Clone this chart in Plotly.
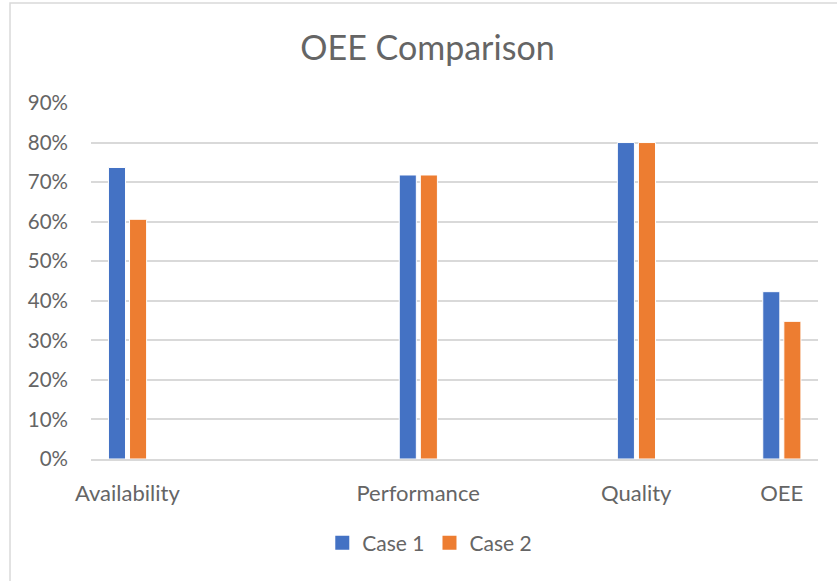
import plotly.graph_objects as go

categories = ["Availability", "Performance", "Quality", "OEE"]
axis_positions = [1, 5, 8, 10]
case1 = [0.737, 0.718, 0.80, 0.423]
case2 = [0.606, 0.718, 0.80, 0.348]
y_ticks = [0, 0.1, 0.2, 0.3, 0.4, 0.5, 0.6, 0.7, 0.8, 0.9]
series_names = ["Case 1", "Case 2"]
series_colors = ["#4472C4", "#ED7D31"]

FONT = "Lato, Carlito, Calibri, sans-serif"
GRAY = "#656565"

fig = go.Figure()
for name, vals, color, off in zip(series_names, [case1, case2], series_colors, [-0.26, 0.03]):
    fig.add_trace(go.Bar(name=name, x=axis_positions, y=vals, width=0.235, offset=off,
                         marker=dict(color=color, line=dict(color="white", width=1)),
                         showlegend=False))
for name, color in zip(series_names, series_colors):
    fig.add_trace(go.Scatter(name=name, x=[None], y=[None], mode="markers",
                             marker=dict(symbol="square", size=14, color=color)))

fig.update_layout(
    width=837, height=581,
    margin=dict(l=91, r=19, t=103, b=122, autoexpand=False),
    paper_bgcolor="white", plot_bgcolor="white",
    font=dict(family=FONT, color=GRAY, size=20),
    title=dict(text="OEE Comparison", x=427.5/837, xanchor="center", y=1 - 48/581, yanchor="middle",
               font=dict(size=34, color=GRAY, family=FONT)),
    barmode="overlay",
    showlegend=True,
    legend=dict(orientation="h", x=0.466, xanchor="center", y=-0.236, yanchor="middle",
                font=dict(size=21, color=GRAY), itemwidth=30, traceorder="normal",
                itemsizing="trace"),
    xaxis=dict(range=[0.5, 10.5], tickmode="array", tickvals=axis_positions, ticktext=categories,
               showgrid=False, zeroline=False, showline=True, linecolor="#d9d9d9", linewidth=2,
               ticks="", ticklabelstandoff=14, tickfont=dict(size=22, color=GRAY)),
    yaxis=dict(range=[0, 0.9], tickmode="array", tickvals=y_ticks, tickformat=".0%",
               showgrid=True, gridcolor="#d9d9d9", gridwidth=1.5, zeroline=False,
               ticks="", ticklabelstandoff=22, tickfont=dict(size=20.5, color=GRAY)),
    shapes=[dict(type="rect", xref="paper", yref="paper",
                 x0=-0.1114, x1=1.2, y0=-0.6, y1=1.2806,
                 line=dict(color="#d9d9d9", width=1.5), fillcolor="rgba(0,0,0,0)", layer="below")],
)

fig.write_html("out.html", config={"displayModeBar": False},
               post_script="document.body.style.margin='0';document.body.style.overflow='hidden';")
